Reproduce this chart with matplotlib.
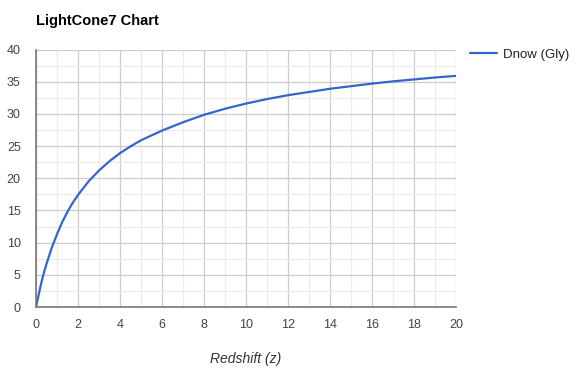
import matplotlib
matplotlib.use("Agg")
from matplotlib import pyplot as plt
from matplotlib.ticker import MultipleLocator

plt.rcParams['font.family'] = ['Liberation Sans', 'DejaVu Sans']

# values
redshift = [0, 0.1, 0.2, 0.3, 0.4, 0.5, 0.75, 1, 1.25, 1.5, 1.75, 2, 2.5, 3,
            3.5, 4, 4.5, 5, 6, 7, 8, 9, 10, 11, 12, 13, 14, 15, 16, 17, 18,
            19, 20]
dnow = [0, 1.5, 3.0, 4.4, 5.6, 6.7, 9.2, 11.3, 13.2, 14.8, 16.2, 17.4, 19.5,
        21.2, 22.65, 23.9, 24.95, 25.9, 27.4, 28.7, 29.85, 30.8, 31.6, 32.3,
        32.9, 33.4, 33.9, 34.3, 34.7, 35.05, 35.35, 35.65, 35.9]
series_name = 'Dnow (Gly)'
title = 'LightCone7 Chart'
x_label = 'Redshift (z)'

fig = plt.figure(figsize=(5.77, 3.73), dpi=100)
ax = fig.add_axes([36/577, 1-307/373, 420/577, 257.5/373])

ax.plot(redshift, dnow, color='#3366cc', lw=1.6, label=series_name,
        solid_capstyle='round', solid_joinstyle='round', zorder=3)

ax.set_xlim(0, 20)
ax.set_ylim(0, 40)
ax.xaxis.set_major_locator(MultipleLocator(2))
ax.xaxis.set_minor_locator(MultipleLocator(1))
ax.yaxis.set_major_locator(MultipleLocator(5))
ax.yaxis.set_minor_locator(MultipleLocator(2.5))
ax.grid(which='major', color='#cccccc', lw=0.9)
ax.grid(which='minor', color='#ebebeb', lw=0.9)
ax.set_axisbelow(True)

for s in ['top', 'right']:
    ax.spines[s].set_visible(False)
for s in ['left', 'bottom']:
    ax.spines[s].set_color('#777777')
    ax.spines[s].set_linewidth(1.2)
    ax.spines[s].set_zorder(4)

ax.tick_params(which='both', length=0, labelsize=9, colors='#444444')
ax.tick_params(axis='y', pad=11)
ax.tick_params(axis='x', pad=9)

ax.set_xlabel(x_label, fontstyle='italic', fontsize=10, color='#333333',
              labelpad=15)
fig.text(36/577, 1-20.5/373, title, fontsize=10.5, fontweight='bold',
         va='center', ha='left', color='#000000')

leg = fig.legend(loc='center left', bbox_to_anchor=(470/577, 1-55/373),
                 frameon=False, fontsize=9.5, handlelength=2.05,
                 handletextpad=0.45, borderaxespad=0, borderpad=0)
for t in leg.get_texts():
    t.set_color('#222222')

fig.savefig('out.png', dpi=100)
